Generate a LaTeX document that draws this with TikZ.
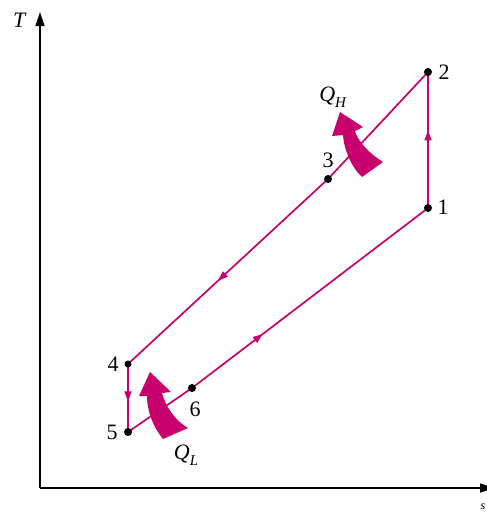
\documentclass[tikz,border=0pt]{standalone}
\usepackage{fontspec}
\setmainfont{Liberation Serif}
\usepackage{tikz}
\usetikzlibrary{arrows.meta,decorations.markings}

\definecolor{cyc}{RGB}{200,0,110}

\begin{document}
\begin{tikzpicture}[x=1pt,y=-1pt,
  every node/.style={font=\fontsize{22}{25}\selectfont},
  leg/.style={cyc,line width=1.7pt},
  midarrow/.style={postaction={decorate},decoration={markings,
    mark=at position #1 with {\arrow{Triangle[width=7pt,length=10pt]}}}},
  dot/.style={circle,fill=black,inner sep=0pt,minimum size=8pt}]
\useasboundingbox (0,0) rectangle (487,514);

% axes
\coordinate (o) at (40,488);
\coordinate (ty) at (40,12);
\coordinate (sx) at (494,488);
\draw[line width=1.4pt,-{Triangle[width=9pt,length=14pt]}] (o) -- (ty);
\draw[line width=1.4pt,-{Triangle[width=9pt,length=14pt]}] (o) -- (sx);
\node (tlab) at (20,20) {\textit{T}};
\node[font=\fontsize{12}{14}\selectfont] (slab) at (483,507) {\textit{s}};

% states
\coordinate (p1) at (428,208);
\coordinate (p2) at (428,72);
\coordinate (p3) at (328,179);
\coordinate (p4) at (128,364);
\coordinate (p5) at (128,432);
\coordinate (p6) at (192,388);

% cycle
\draw[leg,midarrow=0.57] (p1) -- (p2);
\draw[leg] (p2) -- (p3);
\draw[leg,midarrow=0.55] (p3) -- (p4);
\draw[leg,midarrow=0.55] (p4) -- (p5);
\draw[leg] (p5) -- (p6);
\draw[leg,midarrow=0.3] (p6) -- (p1);

\foreach \p in {p1,p2,p3,p5,p6}
  \node[dot] at (\p) {};
\node[dot,minimum size=7pt] at (p4) {};

\node (l1) at (443,207) {1};
\node (l2) at (444,72) {2};
\node (l3) at (328,160) {3};
\node (l4) at (113,364) {4};
\node (l5) at (112,432) {5};
\node (l6) at (195,409) {6};

% heat arrows
\fill[cyc] (362,177) .. controls (352,168) and (344,150) .. (343,135)
  -- (332,136) -- (340,112) -- (363,127) -- (355,131)
  .. controls (358,142) and (370,154) .. (383,162) -- cycle;
\node (qh) at (333,97) {\textit{Q}\raisebox{-0.25em}{\fontsize{15}{17}\selectfont\textit{H}}};

\fill[cyc] (163,439) .. controls (154,428) and (147,412) .. (147,396)
  -- (139,396) -- (150,372) -- (171,392) -- (162,393)
  .. controls (166,408) and (176,421) .. (188,428) -- cycle;
\node (ql) at (186,455) {\textit{Q}\raisebox{-0.25em}{\fontsize{15}{17}\selectfont\textit{L}}};
\end{tikzpicture}
\end{document}
